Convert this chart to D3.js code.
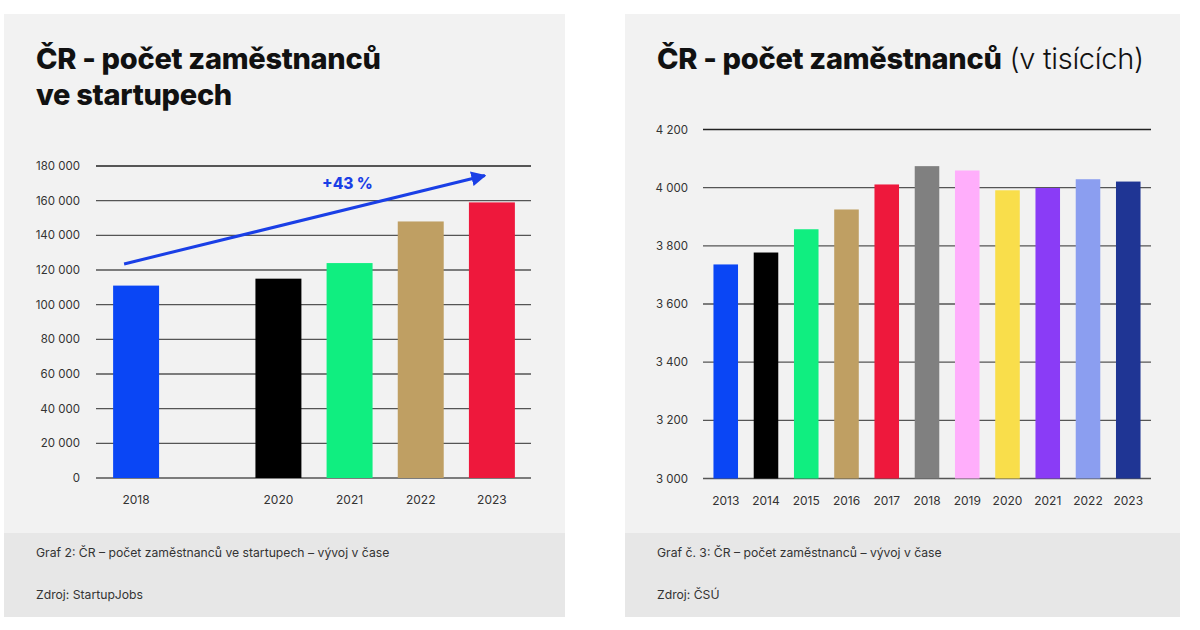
<!DOCTYPE html>
<html>
<head>
<meta charset="utf-8">
<script src="https://cdn.jsdelivr.net/npm/d3@7"></script>
<style>
  html, body { margin: 0; padding: 0; background: #fff; }
  svg { display: block; font-family: Inter, "Noto Sans", sans-serif; }
</style>
</head>
<body>
<svg id="chart" width="1200" height="630"></svg>
<script>
// Left chart: employees in startups (2019 has no bar, slot kept empty)
const startupYears = ['2018', '2019', '2020', '2021', '2022', '2023'];
const startupValues = [111000, null, 115000, 124000, 148000, 159000];
const startupColors = ['#0a46f5', null, '#000000', '#10ee80', '#bf9f63', '#ee183c'];
const startupTicks = [0, 20000, 40000, 60000, 80000, 100000, 120000, 140000, 160000, 180000];
// trend arrow, in data space: [year, value, pixel nudge]
const trendArrow = [['2018', 123500, -12], ['2023', 174500, -7]];
const trendLabel = '+43 %';

// Right chart: all employees in CZ (thousands)
const czYears = ['2013', '2014', '2015', '2016', '2017', '2018', '2019', '2020', '2021', '2022', '2023'];
const czValues = [3736, 3777, 3857, 3925, 4011, 4074, 4059, 3991, 3999, 4029, 4021];
const czColors = ['#0a46f5', '#000000', '#10ee80', '#bf9f63', '#ee183c', '#808080',
                  '#ffaefb', '#f9de4b', '#8a3cf6', '#8b9ef0', '#1f3594'];
const czTicks = [3000, 3200, 3400, 3600, 3800, 4000, 4200];

const fmt = v => d3.format(',')(v).replace(/,/g, '\u00a0');

const svg = d3.select('#chart');

/**
 * Panel background + footer strip with caption and source
 */
function drawPanel(x0, x1, caption, source) {
  svg.append('rect')
    .attr('x', x0).attr('y', 14)
    .attr('width', x1 - x0).attr('height', 519)
    .attr('fill', '#f2f2f2');
  svg.append('rect')
    .attr('x', x0).attr('y', 533)
    .attr('width', x1 - x0).attr('height', 84)
    .attr('fill', '#e7e7e7');
  const g = svg.append('g').attr('font-size', 12.2).attr('fill', '#333');
  g.append('text').attr('x', x0 + 32).attr('y', 557).text(caption);
  g.append('text').attr('x', x0 + 32).attr('y', 599).text(source);
}

/**
 * Gridlines + tick labels for a y scale
 */
function drawGrid(y, ticks, xL, xR, labelX) {
  const g = svg.append('g');
  g.selectAll('line')
    .data(ticks)
    .join('line')
    .attr('x1', xL).attr('x2', xR)
    .attr('y1', d => y(d)).attr('y2', d => y(d))
    .attr('stroke', (d, i) => i === ticks.length - 1 ? '#222' : '#555')
    .attr('stroke-width', 1.4);
  g.selectAll('text')
    .data(ticks)
    .join('text')
    .attr('x', labelX)
    .attr('y', d => y(d))
    .attr('dy', '0.35em')
    .attr('text-anchor', 'end')
    .attr('font-size', 11.5)
    .attr('fill', '#333')
    .text(fmt);
}

function drawBars(x, y, cats, vals, cols, base) {
  const data = cats.map((c, i) => ({ c, v: vals[i], col: cols[i] })).filter(d => d.v != null);
  svg.append('g').selectAll('rect')
    .data(data)
    .join('rect')
    .attr('x', d => x(d.c))
    .attr('width', x.bandwidth())
    .attr('y', d => y(d.v))
    .attr('height', d => y(base) - y(d.v))
    .attr('fill', d => d.col);
  // x labels
  svg.append('g').selectAll('text')
    .data(data)
    .join('text')
    .attr('x', d => x(d.c) + x.bandwidth() / 2)
    .attr('y', y(base) + 26)
    .attr('text-anchor', 'middle')
    .attr('font-size', 12)
    .attr('fill', '#333')
    .text(d => d.c);
}

// ---------- left panel ----------
drawPanel(4, 565,
  'Graf 2: ČR – počet zaměstnanců ve startupech – vývoj v čase',
  'Zdroj: StartupJobs');

const titleL = svg.append('text')
  .attr('font-size', 29).attr('font-weight', 800)
  .attr('fill', '#111')
  .attr('letter-spacing', -0.3);
titleL.append('tspan').attr('x', 36).attr('y', 69).text('ČR - počet zaměstnanců');
titleL.append('tspan').attr('x', 36).attr('y', 105).text('ve startupech');

const yL = d3.scaleLinear().domain([0, 180000]).range([478, 166]);
const xL = d3.scaleBand().domain(startupYears).range([106, 522])
  .paddingInner(0.354).paddingOuter(0.1);

drawGrid(yL, startupTicks, 96, 531, 80);
drawBars(xL, yL, startupYears, startupValues, startupColors, 0);

// trend arrow
const arrowPts = trendArrow.map(([c, v, dx]) => [xL(c) + xL.bandwidth() / 2 + dx, yL(v)]);
svg.append('defs').append('marker')
  .attr('id', 'arrowhead')
  .attr('viewBox', '0 0 10 10')
  .attr('refX', 9).attr('refY', 5)
  .attr('markerWidth', 5).attr('markerHeight', 5)
  .attr('orient', 'auto')
  .append('path')
  .attr('d', 'M0,0 L10,5 L0,10 Z')
  .attr('fill', '#1a3fe6');
svg.append('path')
  .attr('d', d3.line()(arrowPts))
  .attr('stroke', '#1a3fe6')
  .attr('stroke-width', 3)
  .attr('fill', 'none')
  .attr('marker-end', 'url(#arrowhead)');
svg.append('text')
  .attr('x', 322).attr('y', 189)
  .attr('font-size', 15.5).attr('font-weight', 800)
  .attr('fill', '#1a3fe6')
  .text(trendLabel);

// ---------- right panel ----------
drawPanel(625, 1180,
  'Graf č. 3: ČR – počet zaměstnanců – vývoj v čase',
  'Zdroj: ČSÚ');

const titleR = svg.append('text')
  .attr('x', 657).attr('y', 69)
  .attr('font-size', 29)
  .attr('fill', '#111')
  .attr('letter-spacing', -0.3);
titleR.append('tspan').attr('font-weight', 800).text('ČR - počet zaměstnanců');
titleR.append('tspan').attr('font-weight', 300).text(' (v tisících)');

const yR = d3.scaleLinear().domain([3000, 4200]).range([478.5, 129.5]);
const xR = d3.scaleBand().domain(czYears).range([703, 1151])
  .paddingInner(0.39).paddingOuter(0.26);

drawGrid(yR, czTicks, 703, 1151, 688);
drawBars(xR, yR, czYears, czValues, czColors, 3000);
</script>
</body>
</html>
